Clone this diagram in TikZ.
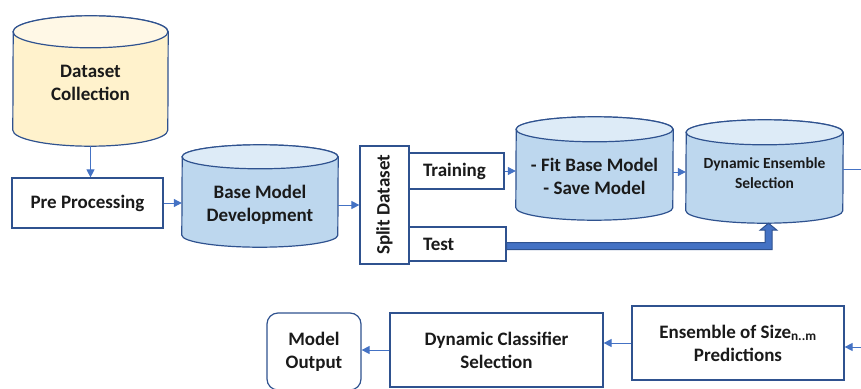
\documentclass[tikz,border=0pt]{standalone}
\usepackage{fontspec}
\setmainfont{Carlito}
\usepackage{graphicx}
\usetikzlibrary{arrows.meta}

\definecolor{edge}{HTML}{2F528F}
\definecolor{flow}{HTML}{4472C4}
\definecolor{cylbody}{HTML}{BDD7EE}
\definecolor{cyltop}{HTML}{DDEBF7}
\definecolor{sandbody}{HTML}{FFF2CC}
\definecolor{sandtop}{HTML}{FFF8E6}
\definecolor{ink}{HTML}{1A1A1A}

\tikzset{
  every node/.style={font=\fontsize{19}{23}\selectfont\bfseries, text=ink,
    align=center, inner sep=0pt},
  span/.style 2 args={minimum width=#1pt, minimum height=#2pt},
  frame/.style={draw=edge, line width=1.2pt, fill=white},
  roundframe/.style={frame, rounded corners=11pt},
  cylline/.style={draw=edge, line width=1.2pt},
  link/.style={draw=flow, line width=1pt, -{Triangle[length=8pt,width=8pt]}},
  wire/.style={draw=flow, line width=1pt},
  fat/.style={fill=flow, draw=edge, line width=1pt, line join=miter},
  small/.style={font=\fontsize{15.5}{20}\selectfont\bfseries},
}

% cylinder outline drawn round a (blank) node: node, half width, ry, body, top
\newcommand\drumshape[5]{%
  \filldraw[cylline, fill=#4] ([yshift=#3]#1.south west)
    arc[start angle=180, end angle=360, x radius=#2, y radius=#3]
    -- ([yshift=-#3]#1.north east)
    arc[start angle=0, end angle=180, x radius=#2, y radius=#3] -- cycle;
  \filldraw[cylline, fill=#5] ([yshift=-#3]#1.north)
    ellipse[x radius=#2, y radius=#3];
}

\begin{document}
\begin{tikzpicture}[x=1pt, y=1pt]
\useasboundingbox (0,0) rectangle (861,-388);
\clip (0,0) rectangle (861,-388);

% ---- top row -------------------------------------------------------
\node[span={155}{130}] (ds) at (90.5,-81) {};
\drumshape{ds}{77.5}{16}{sandbody}{sandtop}
\node (dstext) at (90.5,-83) {Dataset\\Collection};

\node[frame, span={151}{50}] (pre) at (87.5,-203) {Pre Processing};

\node[span={156}{102}] (bmd) at (260,-196) {};
\drumshape{bmd}{78}{12}{cylbody}{cyltop}
\node (bmdtext) at (260,-205) {Base Model\\Development};

\node[frame, span={49}{118}] (split) at (384.5,-205)
  {\rotatebox{90}{Split Dataset}};

\node[frame, span={95}{36}, text width=67pt, inner xsep=14pt, align=left]
  (train) at (456.5,-171) {Training};
\node[frame, span={97}{34}, text width=69pt, inner xsep=14pt, align=left]
  (test) at (457.5,-244) {Test};

\node[span={157}{103}] (fit) at (594.5,-168.5) {};
\drumshape{fit}{78.5}{12.5}{cylbody}{cyltop}
\node (fittext) at (594.5,-176) {- Fit Base Model\\- Save Model};

\node[span={157}{103}] (des) at (764.5,-171.5) {};
\drumshape{des}{78.5}{12.5}{cylbody}{cyltop}
\node[small] (destext) at (764.5,-173) {Dynamic Ensemble\\Selection};

\coordinate (outR) at (861,-169);

% ---- bottom row ----------------------------------------------------
\node[frame, span={212}{74}] (ens) at (738,-343)
  {Ensemble of Size\textsubscript{n..m}\\Predictions};
\node[frame, span={213}{74}] (dcs) at (496.5,-350)
  {Dynamic Classifier\\Selection};
\node[roundframe, span={94}{77}] (mo) at (314,-351.5) {Model\\Output};

\coordinate (inR) at (861,-347);

% ---- connectors ----------------------------------------------------
\draw[link] (ds.south) -- (ds.south |- pre.north);
\draw[link] (pre.east) -- (pre.east -| bmd.west);
\draw[link] (split.west -| bmd.east) -- (split.west);
\draw[link] (train.east) -- (train.east -| fit.west);
\draw[link] ([yshift=-1]train.east -| fit.east) -- ([yshift=-1]train.east -| des.west);
\draw[wire] (outR -| des.east) -- (outR);

\draw[link] (inR) -- (inR -| ens.east);
\draw[link] (ens.west) -- (ens.west -| dcs.east);
\draw[link] (dcs.west) -- (dcs.west -| mo.east);

% thick block arrow from Test up into the ensemble selection store
\coordinate (tk1) at ([yshift=-2]test.east);
\coordinate (tk2) at ([xshift=4]des.south);
\coordinate (tkUp) at ([yshift=3.5]tk1);
\coordinate (tkDn) at ([yshift=-3.5]tk1);
\coordinate (tkL) at ([shift={(-3.5,-7)}]tk2);
\coordinate (tkR) at ([shift={(3.5,-7)}]tk2);
\filldraw[fat] (tkUp) -- (tkL |- tkUp) -- (tkL) -- ++(-5,0) -- (tk2)
  -- ++(8.5,-7) -- (tkR) -- (tkR |- tkDn) -- (tkDn) -- cycle;
\end{tikzpicture}
\end{document}
